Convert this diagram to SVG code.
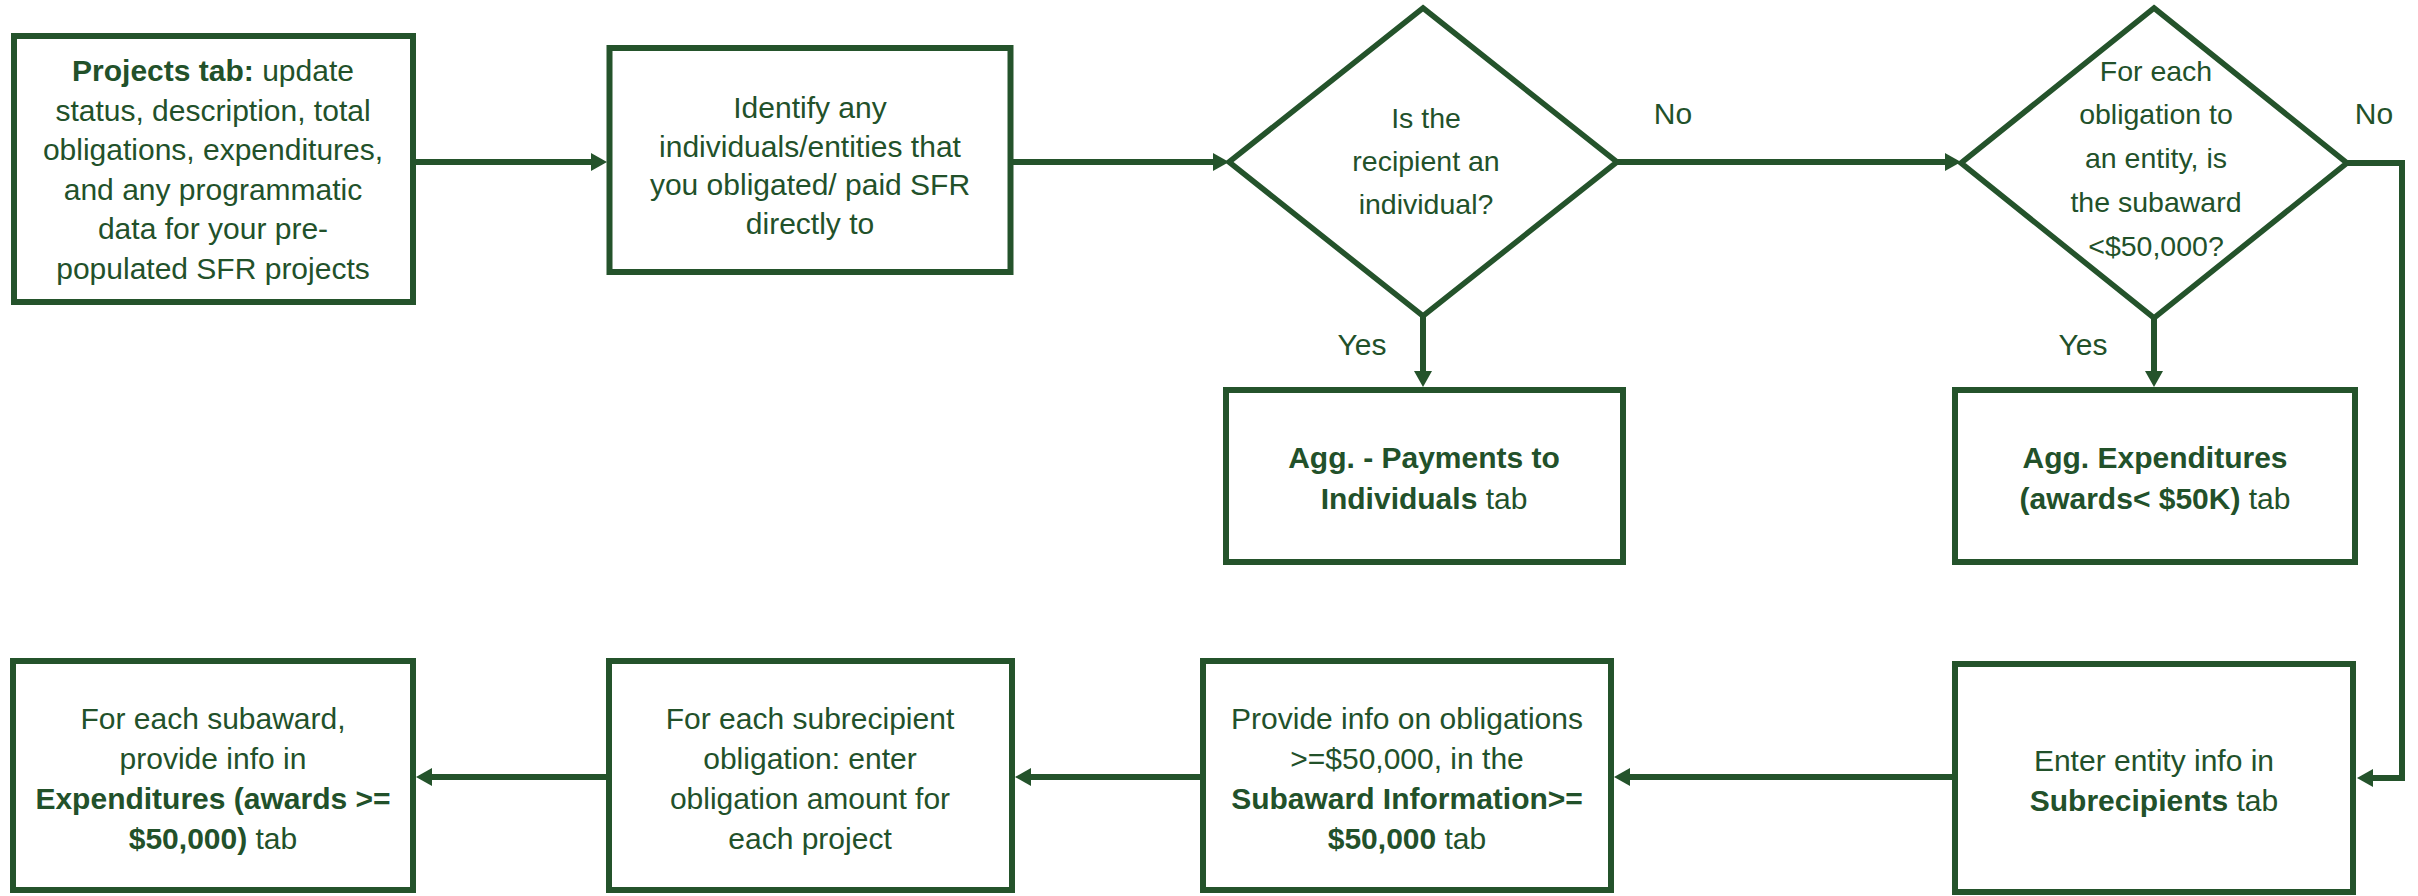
<svg xmlns="http://www.w3.org/2000/svg" width="2418" height="896" viewBox="0 0 2418 896">
  <style>
    .box { fill: #ffffff; stroke: #24532B; stroke-width: 6; }
    .dia { fill: #ffffff; stroke: #24532B; stroke-width: 5.5; stroke-linejoin: miter; }
    .con { fill: none; stroke: #24532B; stroke-width: 6; stroke-linejoin: miter; marker-end: url(#ah); }
    text { font-family: "Liberation Sans", Arial, sans-serif; font-size: 30px; fill: #22512A; text-anchor: middle; }
    .b { font-weight: bold; }
    .dt { font-size: 28.5px; }
  </style>
  <defs>
    <marker id="ah" markerUnits="userSpaceOnUse" markerWidth="16" markerHeight="18" refX="8" refY="9" orient="auto">
      <path d="M0,0 L16,9 L0,18 z" fill="#24532B"/>
    </marker>
  </defs>
  <rect width="2418" height="896" fill="#ffffff"/>

  <g id="connectors">
    <path class="con" d="M416,162 H599"/>
    <path class="con" d="M1013,162 H1221"/>
    <path class="con" d="M1617,162 H1953"/>
    <path class="con" d="M1423,316 V379"/>
    <path class="con" d="M2154,318 V379"/>
    <path class="con" d="M2347,163 H2402 V778 H2365"/>
    <path class="con" d="M1952,777 H1622"/>
    <path class="con" d="M1200,777 H1023"/>
    <path class="con" d="M606,777 H424"/>
  </g>

  <g id="n1-projects">
    <rect class="box" x="14" y="36" width="399" height="266"/>
    <text x="213" y="81"><tspan class="b">Projects tab:</tspan> update</text>
    <text x="213" y="120.5">status, description, total</text>
    <text x="213" y="160">obligations, expenditures,</text>
    <text x="213" y="199.5">and any programmatic</text>
    <text x="213" y="239">data for your pre-</text>
    <text x="213" y="278.5">populated SFR projects</text>
  </g>

  <g id="n2-identify">
    <rect class="box" x="609.5" y="48" width="401" height="224"/>
    <text x="810" y="118">Identify any</text>
    <text x="810" y="157">individuals/entities that</text>
    <text x="810" y="195">you obligated/ paid SFR</text>
    <text x="810" y="234">directly to</text>
  </g>

  <g id="n3-individual">
    <polygon class="dia" points="1423,8 1617,162 1423,316 1229,162"/>
    <text class="dt" x="1426" y="128">Is the</text>
    <text class="dt" x="1426" y="171">recipient an</text>
    <text class="dt" x="1426" y="214">individual?</text>
  </g>

  <g id="n4-subaward">
    <polygon class="dia" points="2154,8 2347,163 2154,318 1961,163"/>
    <text class="dt" x="2156" y="81">For each</text>
    <text class="dt" x="2156" y="124">obligation to</text>
    <text class="dt" x="2156" y="168">an entity, is</text>
    <text class="dt" x="2156" y="212">the subaward</text>
    <text class="dt" x="2156" y="256">&lt;$50,000?</text>
  </g>

  <g id="labels">
    <text x="1673" y="124">No</text>
    <text x="2374" y="124">No</text>
    <text x="1362" y="355">Yes</text>
    <text x="2083" y="355">Yes</text>
  </g>

  <g id="n5-payments">
    <rect class="box" x="1226" y="390" width="397" height="172"/>
    <text x="1424" y="468" class="b">Agg. - Payments to</text>
    <text x="1424" y="509"><tspan class="b">Individuals</tspan> tab</text>
  </g>

  <g id="n6-aggexp">
    <rect class="box" x="1955" y="390" width="400" height="172"/>
    <text x="2155" y="468" class="b">Agg. Expenditures</text>
    <text x="2155" y="509"><tspan class="b">(awards&lt; $50K)</tspan> tab</text>
  </g>

  <g id="n7-subrecipients">
    <rect class="box" x="1955" y="664" width="398" height="228"/>
    <text x="2154" y="771">Enter entity info in</text>
    <text x="2154" y="811"><tspan class="b">Subrecipients</tspan> tab</text>
  </g>

  <g id="n8-subaward-info">
    <rect class="box" x="1203" y="661" width="408" height="229"/>
    <text x="1407" y="729">Provide info on obligations</text>
    <text x="1407" y="769">&gt;=$50,000, in the</text>
    <text x="1407" y="809" class="b">Subaward Information&gt;=</text>
    <text x="1407" y="849"><tspan class="b">$50,000</tspan> tab</text>
  </g>

  <g id="n9-obligation">
    <rect class="box" x="609" y="661" width="403" height="229"/>
    <text x="810" y="729">For each subrecipient</text>
    <text x="810" y="769">obligation: enter</text>
    <text x="810" y="809">obligation amount for</text>
    <text x="810" y="849">each project</text>
  </g>

  <g id="n10-expenditures">
    <rect class="box" x="13" y="661" width="400" height="229"/>
    <text x="213" y="729">For each subaward,</text>
    <text x="213" y="769">provide info in</text>
    <text x="213" y="809" class="b">Expenditures (awards &gt;=</text>
    <text x="213" y="849"><tspan class="b">$50,000)</tspan> tab</text>
  </g>
</svg>
